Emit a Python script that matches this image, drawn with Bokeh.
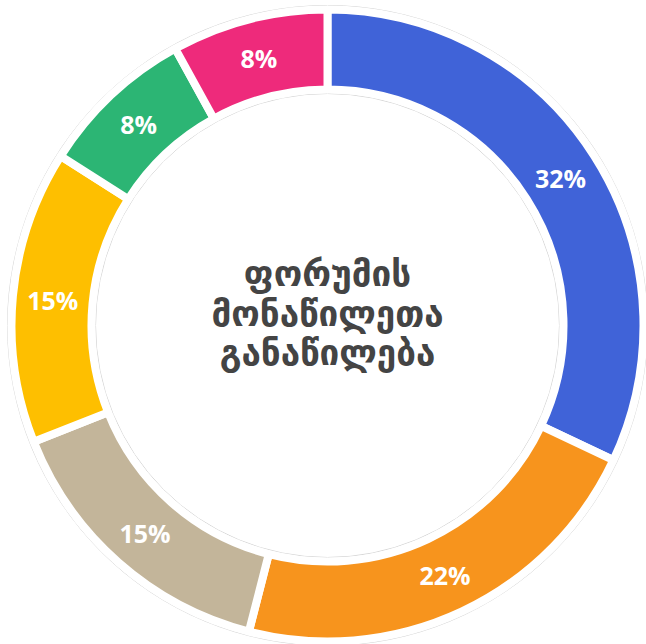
import math
from bokeh.plotting import figure
from bokeh.models import Range1d, ColumnDataSource
from bokeh.core.properties import value
from bokeh.embed import file_html
from bokeh.resources import INLINE

# ---- data ----
categories = ["A", "B", "C", "D", "E", "F"]
shares = [32, 22, 15, 15, 8, 8]
colors = ["#4063D8", "#F7941D", "#C3B59A", "#FEBF00", "#2CB574", "#EE2A7B"]
title_lines = ["ფორუმის", "მონაწილეთა", "განაწილება"]

# ---- geometry (screen pixels == data units) ----
W, H = 646, 644
CX, CY = 327, 319  # center offset inside the figure (from left, from bottom)
R_OUT, R_IN = 316, 236

total = float(sum(shares))
starts, ends, mids = [], [], []
a = math.pi / 2
for s in shares:
    span = 2 * math.pi * s / total
    starts.append(a - span)
    ends.append(a)
    mids.append(a - span / 2)
    a -= span

src = ColumnDataSource(dict(cat=categories, start=starts, end=ends, color=colors))

p = figure(width=W, height=H, output_backend="svg", toolbar_location=None,
           x_range=Range1d(-CX, W - CX), y_range=Range1d(-CY, H - CY),
           min_border=0)
p.axis.visible = False
p.grid.visible = False
p.outline_line_color = None
p.background_fill_color = "white"
p.border_fill_color = "white"

# faint outline rings
p.circle(x=[0, 0], y=[0, 0], radius=[R_OUT + 4, R_IN - 4], fill_color=None,
         line_color="#d6d6d6", line_width=1)

p.annular_wedge(x=0, y=0, inner_radius=R_IN, outer_radius=R_OUT,
                start_angle="start", end_angle="end", fill_color="color",
                line_color="white", line_width=8, source=src)

r_lab = (R_IN + R_OUT) / 2
lx = [r_lab * math.cos(m) for m in mids]
ly = [r_lab * math.sin(m) for m in mids]
labels = [f"{s}%" for s in shares]
p.text(x=lx, y=ly, text=labels, text_color="white", text_font=value("Open Sans"),
       text_font_style="bold", text_font_size="25px", text_align="center",
       text_baseline="middle")

ty = [52, 12, -27]
p.text(x=[0, 0, 0], y=ty, text=title_lines, text_color="#444444",
       text_font=value("DejaVu Sans"), text_font_style="bold",
       text_font_size="35px", text_align="center", text_baseline="middle")

open("out.html", "w").write(file_html(p, INLINE))
